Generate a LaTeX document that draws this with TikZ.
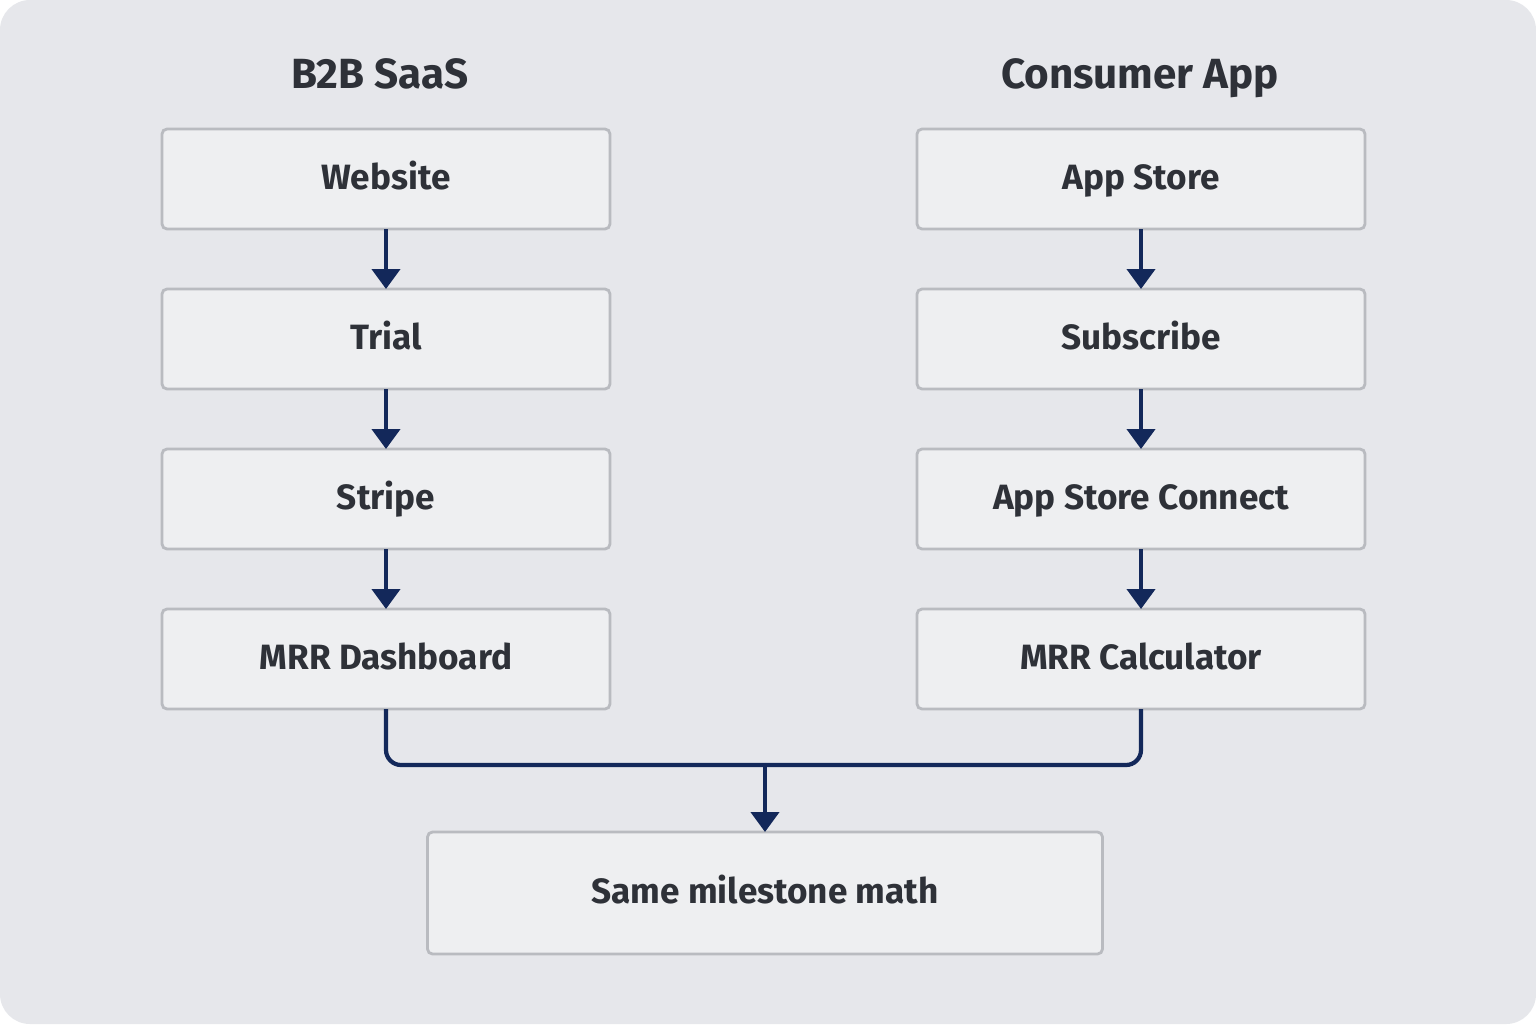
\documentclass[tikz,border=0pt]{standalone}
\usepackage{fontspec}
\setmainfont{Fira Sans}
\usetikzlibrary{arrows.meta,positioning}
\definecolor{bgcol}{HTML}{E6E7EB}
\definecolor{boxfill}{HTML}{EEEFF1}
\definecolor{boxline}{HTML}{B9BBC0}
\definecolor{navy}{HTML}{13285A}
\definecolor{ink}{HTML}{2E3138}
\tikzset{
  % flow stage box
  stage/.style = {
    draw = boxline,
    fill = boxfill,
    line width = 0.8pt,
    outer sep = 0pt,
    rounded corners = 0.5mm,
    minimum width = 4.48cm,
    minimum height = 1cm,
    text height = 1.6ex,
    text depth = 0.5ex,
    font = \fontsize{10}{12}\selectfont\bfseries,
    text = ink
  },
  % column heading
  head/.style = {
    text height = 1.6ex,
    text depth = 0.5ex,
    font = \fontsize{12}{14}\selectfont\bfseries,
    text = ink
  },
  % path style with arrow
  arr/.style = {
    draw = navy,
    line width = 1.2pt,
    rounded corners = 1.5mm,
    -{Triangle[length=2mm,width=2.8mm]}
  },
  % path style with no arrow
  narr/.style = {
    draw = navy,
    line width = 1.2pt,
    rounded corners = 1.5mm
  },
  node distance = 0.6cm
}
\begin{document}
\begin{tikzpicture}
    \fill[white] (0,0) rectangle (15.36,-10.24);
    \fill[bgcol, rounded corners=3mm] (0,0) rectangle (15.36,-10.24);
    \useasboundingbox (0,0) rectangle (15.36,-10.24);

    \node[head] (saas) at (3.80,-0.78) {B2B SaaS};
    \node[head] (consumer) at (11.40,-0.78) {Consumer App};

    \node[stage] (web) at (3.86,-1.79) {Website};
    \node[stage] (trial) [below=of web] {Trial};
    \node[stage] (stripe) [below=of trial] {Stripe};
    \node[stage] (dash) [below=of stripe] {MRR Dashboard};

    \node[stage] (store) at (11.41,-1.79) {App Store};
    \node[stage] (sub) [below=of store] {Subscribe};
    \node[stage] (connect) [below=of sub] {App Store Connect};
    \node[stage] (calc) [below=of connect] {MRR Calculator};

    \node[stage, minimum width=6.75cm, minimum height=1.22cm] (math) at (7.65,-8.93) {Same milestone math};

    \coordinate (merge) at (7.65,-7.65);

    % left column
    \draw[arr] (web) -- (trial);
    \draw[arr] (trial) -- (stripe);
    \draw[arr] (stripe) -- (dash);

    % right column
    \draw[arr] (store) -- (sub);
    \draw[arr] (sub) -- (connect);
    \draw[arr] (connect) -- (calc);

    % merge
    \draw[narr] (dash.south) |- (merge);
    \draw[narr] (calc.south) |- (merge);
    \draw[arr] (merge) -- (math);
\end{tikzpicture}
\end{document}
